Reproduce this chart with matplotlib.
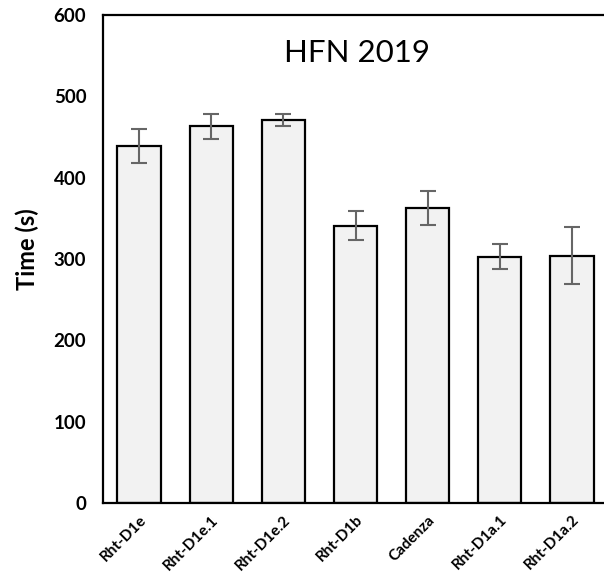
import matplotlib

matplotlib.use("Agg")
import matplotlib.pyplot as plt

lines = ["Rht-D1e", "Rht-D1e.1", "Rht-D1e.2", "Rht-D1b", "Cadenza", "Rht-D1a.1", "Rht-D1a.2"]
hfn_time = [439, 463, 471, 341, 363, 303, 304]
hfn_err = [21, 15, 7, 18, 21, 15, 35]

plt.rcParams["font.family"] = ["Lato", "DejaVu Sans"]

fig = plt.figure(figsize=(6.04, 5.84), dpi=100)
# the frame runs past the right edge of the picture, as in the original
ax = fig.add_axes([103 / 604, 81 / 584, 505 / 604, 488 / 584])

x = list(range(len(lines)))
ax.bar(x, hfn_time, 0.6, color="#f2f2f2", edgecolor="black", linewidth=1.6, zorder=2)
ax.errorbar(x, hfn_time, yerr=hfn_err, fmt="none", ecolor="#666666",
            elinewidth=1.5, capsize=6, capthick=1.5, zorder=3)

ax.set_xlim(-0.5, 6.5)
ax.set_ylim(0, 600)
ax.set_yticks(range(0, 601, 100))
ax.set_xticks(x, lines)
ax.tick_params(axis="both", length=0)
ax.tick_params(axis="y", pad=12, labelsize=13.5)
ax.tick_params(axis="x", pad=7)
plt.setp(ax.get_xticklabels(), rotation=45, ha="right", rotation_mode="anchor",
         fontsize=11, fontweight="bold")
plt.setp(ax.get_yticklabels(), fontweight="bold")

for side in ["left", "top", "bottom"]:
    ax.spines[side].set_linewidth(1.6)
ax.spines["right"].set_visible(False)

ax.set_ylabel("Time (s)", fontsize=17, fontweight="bold", va="center")
ax.yaxis.set_label_coords(-0.15, 0.52)
ax.text(3.02, 553, "HFN 2019", ha="center", va="center", fontsize=22.5)

fig.savefig("out.png", dpi=100)
